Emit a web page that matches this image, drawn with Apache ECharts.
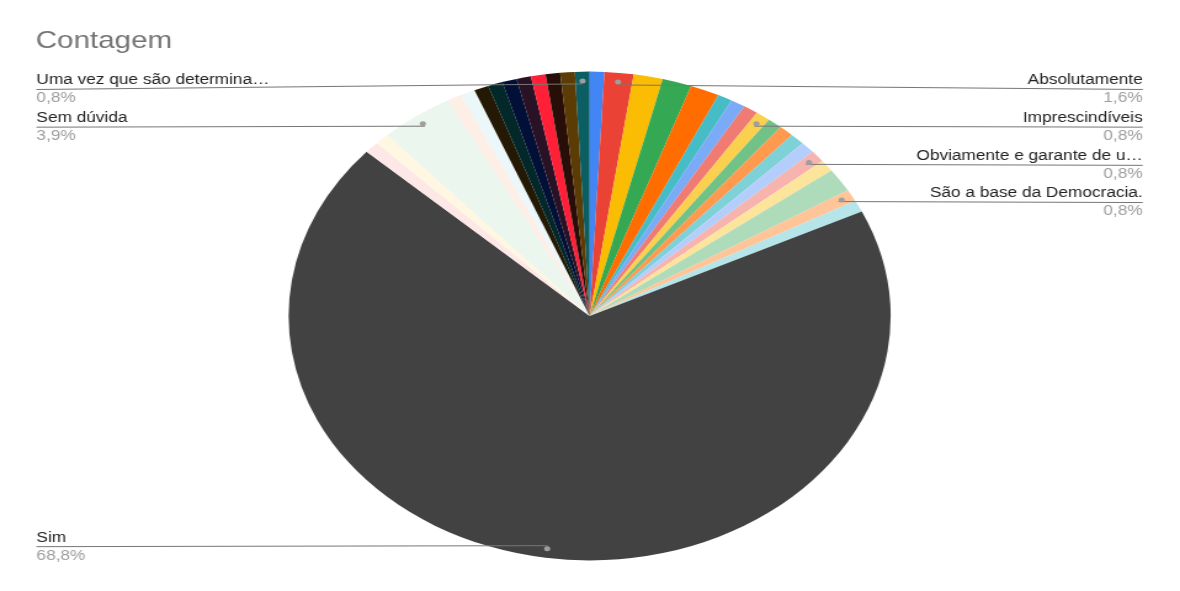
<!DOCTYPE html>
<html>
<head>
<meta charset="utf-8">
<script src="https://cdn.jsdelivr.net/npm/echarts@6/dist/echarts.min.js"></script>
<style>
  html, body { margin: 0; padding: 0; background: #ffffff; overflow: hidden; width: 1180px; height: 591px; }
  /* the reference is horizontally stretched: draw at 958px and stretch to 1180px */
  #chart { position: absolute; left: 0; top: 0; width: 958px; height: 591px;
           transform: scaleX(1.23173); transform-origin: 0 0; }
</style>
</head>
<body>
<div id="chart"></div>
<script>
// ---------------- data ----------------
const chartTitle = 'Contagem';

const categories = [
  'Outra resposta 1', 'Absolutamente', 'Outra resposta 2', 'Outra resposta 3',
  'Outra resposta 4', 'Outra resposta 5', 'Outra resposta 6', 'Outra resposta 7',
  'Imprescindíveis', 'Outra resposta 8', 'Outra resposta 9', 'Outra resposta 10',
  'Outra resposta 11', 'Obviamente e garante de u…', 'Outra resposta 12', 'Outra resposta 13',
  'São a base da Democracia.', 'Outra resposta 14', 'Sim', 'Outra resposta 15',
  'Outra resposta 16', 'Sem dúvida', 'Outra resposta 17', 'Outra resposta 18',
  'Outra resposta 19', 'Outra resposta 20', 'Outra resposta 21', 'Outra resposta 22',
  'Outra resposta 23', 'Outra resposta 24', 'Outra resposta 25', 'Uma vez que são determina…'
];

const counts = [
  1, 2, 2, 2, 2, 1, 1, 1,
  1, 1, 1, 1, 1, 1, 1, 2,
  1, 1, 88, 1, 1, 5, 1, 1,
  1, 1, 1, 1, 1, 1, 1, 1
];

const labeledCategories = [
  'Absolutamente', 'Imprescindíveis', 'Obviamente e garante de u…',
  'São a base da Democracia.', 'Sim', 'Sem dúvida', 'Uma vez que são determina…'
];

// ---------------- style ----------------
const sliceColors = [
  '#4285f4', '#ea4335', '#fbbc04', '#34a853', '#ff6d01', '#46bdc6', '#7baaf7', '#f07b72',
  '#fcd04f', '#71c287', '#ff994d', '#7ed1d7', '#b3cefb', '#f7b4ae', '#fde49b', '#aedcba',
  '#ffc599', '#b5e5e8', '#424242', '#fde7e7', '#fff7e1', '#ebf6ee', '#feefe6', '#ebf7f8',
  '#241904', '#03282a', '#020f36', '#2a1226', '#ff2038', '#270e08', '#5c3c05', '#0b5f63'
];
const FONT = '"Liberation Sans", Arial, sans-serif';
const CX = 478.7, CY = 316, R = 244.4;
const DOT_R = 0.95;
const LEFT_X = 29.6, RIGHT_X = 927.7, TOP_MIN = 89.5;

const total = counts.reduce((a, b) => a + b, 0);
function pctText(v) {
  return (v / total * 100).toFixed(1).replace('.', ',') + '%';
}
function isLabeled(name) { return labeledCategories.indexOf(name) >= 0; }

const sliceData = categories.map((name, i) => ({
  name: name,
  value: counts[i],
  itemStyle: { color: sliceColors[i] }
}));

const labelData = categories.map((name, i) => ({
  name: name,
  value: counts[i],
  label: { show: isLabeled(name) },
  labelLine: { show: isLabeled(name) }
}));

const dotData = categories.map((name, i) => ({
  name: name,
  value: counts[i],
  label: { show: isLabeled(name) }
}));

const common = {
  type: 'pie',
  center: [CX, CY],
  startAngle: 90,
  clockwise: true,
  avoidLabelOverlap: false,
  silent: true,
  emphasis: { disabled: true }
};

const chart = echarts.init(document.getElementById('chart'), null, { renderer: 'canvas' });

chart.setOption({
  animation: false,
  backgroundColor: '#ffffff',
  title: {
    text: chartTitle,
    left: 29,
    top: 29,
    padding: 0,
    textStyle: { fontSize: 24, fontWeight: 'normal', color: '#757575', fontFamily: FONT }
  },
  series: [
    // slices
    Object.assign({}, common, {
      z: 2,
      radius: [0, R],
      itemStyle: { borderWidth: 0 },
      label: { show: false },
      labelLine: { show: false },
      data: sliceData
    }),
    // labels + leader lines (transparent sectors, drawn above the slices)
    Object.assign({}, common, {
      z: 3,
      radius: [0, R],
      itemStyle: { color: 'rgba(0,0,0,0)', borderWidth: 0 },
      data: labelData,
      label: {
        show: false,
        position: 'outside',
        alignTo: 'none',
        formatter: p => '{n|' + p.name + '}\n{p|' + pctText(p.value) + '}',
        rich: {
          n: { fontSize: 14, lineHeight: 18, color: '#222222', fontFamily: FONT },
          p: { fontSize: 14, lineHeight: 18, color: '#9e9e9e', fontFamily: FONT }
        }
      },
      labelLine: {
        show: false,
        showAbove: true,
        length: 10,
        length2: 10,
        lineStyle: { color: '#777777', width: 1 }
      },
      labelLayout: function (p) {
        const pts = p.labelLinePoints;
        if (!pts || !pts.length) return {};
        const vx = pts[0][0] - CX, vy = pts[0][1] - CY;
        const len = Math.sqrt(vx * vx + vy * vy) || 1;
        const dx = CX + vx / len * R * DOT_R;
        const dy = CY + vy / len * R * DOT_R;
        const left = dx < CX;
        const ex = left ? LEFT_X : RIGHT_X;
        const ly = Math.max(dy + 1, TOP_MIN);
        return {
          x: ex,
          y: ly,
          align: left ? 'left' : 'right',
          verticalAlign: 'middle',
          labelLinePoints: [[dx, dy], [ex, ly]]
        };
      }
    }),
    // end dots
    Object.assign({}, common, {
      z: 4,
      radius: [R * 0.9, R],
      itemStyle: { color: 'rgba(0,0,0,0)', borderWidth: 0 },
      data: dotData,
      labelLine: { show: false },
      label: {
        show: false,
        position: 'inside',
        formatter: ' ',
        fontSize: 1,
        lineHeight: 5,
        width: 5,
        height: 5,
        padding: 0,
        borderRadius: 2.5,
        backgroundColor: '#9e9e9e',
        color: 'rgba(0,0,0,0)'
      }
    })
  ]
});
</script>
</body>
</html>
